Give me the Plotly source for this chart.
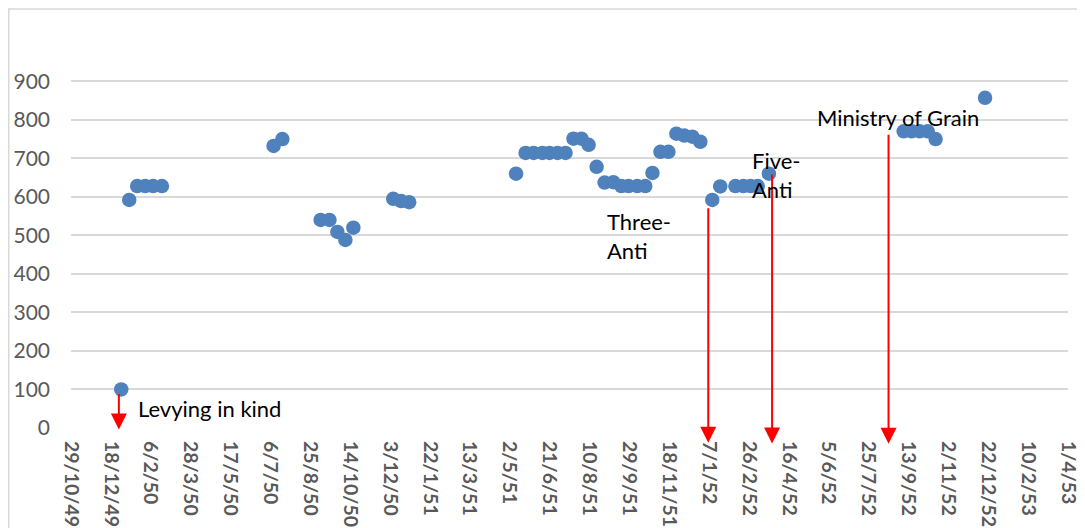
import plotly.graph_objects as go

# ---------------- data ----------------
dates = [
    '1949-12-31', '1950-01-10', '1950-01-20', '1950-01-30', '1950-02-09', '1950-02-20',
    '1950-07-10', '1950-07-21',
    '1950-09-07', '1950-09-18', '1950-09-28', '1950-10-08', '1950-10-18',
    '1950-12-07', '1950-12-17', '1950-12-27',
    '1951-05-10', '1951-05-22', '1951-06-01', '1951-06-12', '1951-06-21', '1951-07-01', '1951-07-11',
    '1951-07-21', '1951-07-31', '1951-08-09', '1951-08-19', '1951-08-29', '1951-09-09',
    '1951-09-19', '1951-09-28', '1951-10-09', '1951-10-19', '1951-10-28',
    '1951-11-07', '1951-11-17', '1951-11-27', '1951-12-07', '1951-12-17', '1951-12-27',
    '1952-01-11', '1952-01-21', '1952-02-09', '1952-02-19', '1952-02-28', '1952-03-08', '1952-03-22',
    '1952-09-07', '1952-09-17', '1952-09-27', '1952-10-07', '1952-10-17',
    '1952-12-18',
]
prices = [
    100, 592, 628, 628, 628, 628,
    732, 750,
    540, 540, 509, 488, 520,
    595, 589, 586,
    660, 714, 714, 714, 714, 714, 714,
    751, 751, 735, 678, 637, 638,
    628, 628, 628, 628, 662,
    717, 717, 764, 759, 756, 743,
    592, 627, 628, 628, 628, 628, 660,
    770, 770, 770, 770, 750,
    857,
]

tick_dates = [
    '1949-10-29', '1949-12-18', '1950-02-06', '1950-03-28', '1950-05-17', '1950-07-06',
    '1950-08-25', '1950-10-14', '1950-12-03', '1951-01-22', '1951-03-13', '1951-05-02',
    '1951-06-21', '1951-08-10', '1951-09-29', '1951-11-18', '1952-01-07', '1952-02-26',
    '1952-04-16', '1952-06-05', '1952-07-25', '1952-09-13', '1952-11-02', '1952-12-22',
    '1953-02-10', '1953-04-01',
]
tick_labels = [
    '29/10/49', '18/12/49', '6/2/50', '28/3/50', '17/5/50', '6/7/50',
    '25/8/50', '14/10/50', '3/12/50', '22/1/51', '13/3/51', '2/5/51',
    '21/6/51', '10/8/51', '29/9/51', '18/11/51', '7/1/52', '26/2/52',
    '16/4/52', '5/6/52', '25/7/52', '13/9/52', '2/11/52', '22/12/52',
    '10/2/53', '1/4/53',
]
y_ticks = [0, 100, 200, 300, 400, 500, 600, 700, 800, 900]

event_names = ['Levying in kind', 'Three-<br>Anti', 'Five-<br>Anti', 'Ministry of Grain']
event_dates = ['1949-12-28', '1952-01-06', '1952-03-26', '1952-08-19']
event_top = [92, 574, 662, 765]

# ---------------- styling / placement ----------------
FONT = 'Lato'
arrow_tip = [-4, -38, -40, -41]
label_x = ['1950-01-19', '1951-08-30', '1952-02-27', '1952-05-19']
label_y = [50, 499, 657, 807]

# the page body adds an 8px offset, so the figure is 8px smaller than the window
FIG_W, FIG_H = 1077, 520
M_L, M_R, M_T, M_B = 63, 17, 54, 100
plot_w = FIG_W - M_L - M_R
plot_h = FIG_H - M_T - M_B

fig = go.Figure()
fig.add_trace(go.Scatter(
    x=dates, y=prices, mode='markers',
    marker=dict(size=14.5, color='#4F81BD'),
    showlegend=False, hoverinfo='x+y',
))

annotations = []
for d, top, tip in zip(event_dates, event_top, arrow_tip):
    annotations.append(dict(
        x=d, y=tip, ax=d, ay=top,
        xref='x', yref='y', axref='x', ayref='y',
        showarrow=True, arrowhead=2, arrowsize=1.6, arrowwidth=2,
        arrowcolor='#FF0000', text='', standoff=0, startstandoff=0,
    ))
for name, lx, ly in zip(event_names, label_x, label_y):
    annotations.append(dict(
        x=lx, y=ly, xref='x', yref='y', text=name, showarrow=False,
        xanchor='left', yanchor='middle', align='left',
        font=dict(family=FONT, size=22, color='#000000'),
    ))

fig.update_layout(
    width=FIG_W, height=FIG_H,
    margin=dict(l=M_L, r=M_R, t=M_T, b=M_B),
    paper_bgcolor='white', plot_bgcolor='white',
    font=dict(family=FONT),
    annotations=annotations,
    shapes=[dict(
        type='rect', xref='paper', yref='paper',
        x0=(0.75 - M_L) / plot_w, x1=1.1,
        y0=-0.5, y1=(FIG_H - M_B - 1) / plot_h,
        line=dict(color='#D9D9D9', width=1.5), fillcolor='rgba(0,0,0,0)', layer='below',
    )],
    xaxis=dict(
        type='date', range=[tick_dates[0], tick_dates[-1]],
        tickmode='array', tickvals=tick_dates, ticktext=tick_labels,
        tickangle=90, showgrid=False, zeroline=False, showline=False,
        ticks='', ticklabelstandoff=12, automargin=False,
        tickfont=dict(family=FONT, size=19.5, color='#595959', weight='bold'),
    ),
    yaxis=dict(
        range=[0, 950], tickmode='array', tickvals=y_ticks,
        showgrid=True, gridcolor='#D9D9D9', gridwidth=1.5,
        zeroline=False, showline=False, ticks='', ticklabelstandoff=20,
        automargin=False,
        tickfont=dict(family=FONT, size=21, color='#595959'),
    ),
)

fig.write_html('out.html')
